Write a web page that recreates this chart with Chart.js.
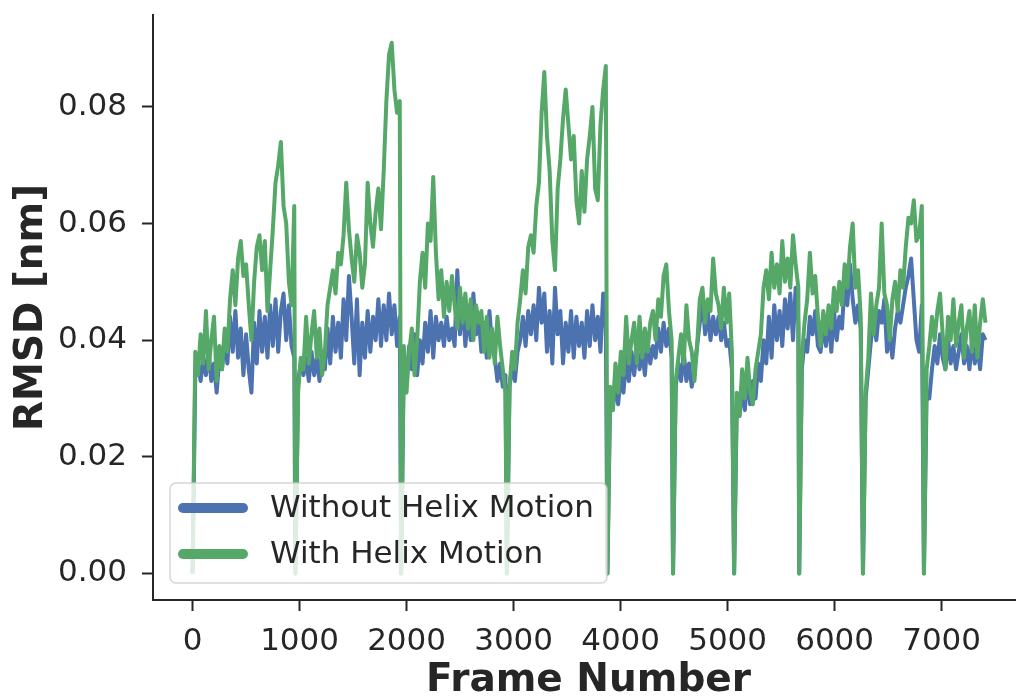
<!DOCTYPE html>
<html>
<head>
<meta charset="utf-8">
<title>RMSD per frame</title>
<script src="https://cdn.jsdelivr.net/npm/chart.js@4.4.1/dist/chart.umd.min.js"></script>
<style>
html, body { margin: 0; padding: 0; background: #fff; overflow: hidden; }
</style>
</head>
<body>
<canvas id="rmsdChart" width="1024" height="700"></canvas>
<script>
// first frame of each trajectory piece, values sampled every 25 frames
const segmentStart = [0, 961, 1949, 2937, 3877, 4490, 5061, 5669, 6265, 6835];
const frameStep = 25;
const xTicks = [0, 1000, 2000, 3000, 4000, 5000, 6000, 7000];
const yTicks = [0, 0.02, 0.04, 0.06, 0.08];
const seriesNames = ['Without Helix Motion', 'With Helix Motion'];

const withoutHelix = [
    [0, .034, .036, .033, .037, .034, .038, .033, .036, .031, .037, .035, .040, .036, .044, .038, .045, .037, .042, .034, .041, .035, .031, .043, .036, .045, .038, .044, .037, .046, .039, .047, .038, .045, .048, .040, .046, .039, .037],
    [0, .033, .036, .034, .037, .033, .038, .034, .037, .033, .038, .035, .042, .036, .044, .038, .043, .037, .047, .040, .051, .044, .036, .047, .034, .043, .037, .045, .038, .044, .040, .047, .039, .046, .040, .048, .041, .046, .039, .044],
    [0, .036, .033, .039, .035, .041, .034, .040, .036, .043, .038, .045, .037, .044, .040, .043, .039, .044, .040, .042, .039, .052, .041, .047, .039, .045, .040, .048, .041, .044, .038, .043, .037, .045, .039, .037, .033, .036, .032, .034],
    [0, .032, .036, .033, .038, .040, .044, .039, .045, .041, .046, .040, .049, .043, .048, .038, .045, .036, .049, .041, .045, .036, .043, .038, .045, .037, .044, .039, .043, .037, .045, .039, .046, .040, .044, .038, .048, .042],
    [0, .030, .028, .033, .029, .034, .031, .037, .033, .038, .034, .039, .035, .038, .034, .040, .036, .039, .037, .042, .038, .043, .039, .042, .037],
    [0, .032, .036, .033, .038, .033, .036, .032, .035, .039, .043, .047, .041, .045, .040, .044, .041, .044, .040, .043, .039, .040, .035],
    [0, .029, .027, .032, .028, .034, .029, .033, .030, .036, .033, .040, .036, .044, .037, .046, .040, .045, .039, .047, .042, .048, .040, .049, .043],
    [0, .035, .040, .038, .044, .041, .045, .039, .038, .043, .039, .044, .038, .045, .040, .044, .042, .050, .046, .053, .047, .043, .046, .042],
    [0, .030, .035, .040, .044, .040, .045, .043, .047, .038, .041, .037, .042, .045, .043, .046, .049, .051, .054, .047, .040, .038, .046],
    [0, .031, .030, .035, .039, .036, .041, .037, .035, .040, .036, .039, .035, .038, .041, .036, .039, .035, .040, .036, .039, .035, .041, .040]
];

const withHelix = [
    [0, .038, .034, .041, .036, .045, .035, .040, .044, .033, .039, .035, .042, .038, .047, .052, .046, .054, .057, .051, .053, .046, .040, .050, .056, .058, .052, .057, .045, .052, .059, .067, .070, .074, .063, .060, .050, .046, .063],
    [0, .031, .037, .035, .044, .036, .041, .045, .037, .042, .034, .038, .046, .049, .052, .048, .055, .053, .058, .067, .059, .054, .050, .058, .055, .049, .053, .067, .060, .056, .062, .066, .059, .069, .081, .089, .091, .083, .079, .081],
    [0, .039, .031, .038, .042, .034, .040, .050, .055, .049, .060, .057, .068, .055, .047, .052, .044, .050, .045, .051, .046, .042, .049, .043, .048, .042, .047, .040, .046, .043, .045, .038, .044, .037, .042, .036, .044, .039, .035, .031],
    [0, .032, .038, .035, .043, .047, .052, .048, .056, .058, .055, .063, .067, .079, .086, .075, .069, .057, .052, .066, .071, .078, .083, .077, .071, .075, .064, .060, .069, .062, .071, .075, .080, .066, .064, .077, .083, .087],
    [0, .032, .028, .036, .031, .038, .034, .044, .036, .040, .043, .036, .044, .037, .042, .038, .043, .045, .040, .047, .044, .051, .053, .045, .040],
    [0, .033, .037, .041, .036, .046, .040, .038, .033, .039, .047, .049, .043, .047, .045, .054, .048, .046, .042, .049, .043, .048, .038],
    [0, .031, .027, .035, .030, .037, .031, .029, .035, .038, .041, .049, .052, .047, .055, .049, .053, .048, .057, .050, .054, .049, .058, .053, .049],
    [0, .037, .043, .047, .055, .048, .051, .044, .039, .045, .041, .046, .042, .049, .045, .050, .046, .053, .049, .056, .060, .049, .052, .044],
    [0, .031, .037, .048, .041, .046, .049, .060, .048, .046, .040, .047, .050, .045, .052, .049, .056, .061, .060, .064, .057, .058, .063],
    [0, .035, .039, .044, .040, .045, .048, .041, .035, .044, .040, .047, .039, .043, .046, .037, .042, .045, .038, .046, .037, .043, .047, .043]
];

const BLUE = '#4c72b0';
const GREEN = '#55a868';
const INK = '#262626';
const FONT = '"DejaVu Sans", sans-serif';

function toPoints(segments) {
    let pts = [];
    segments.forEach(function (vals, s) {
        for (let i = 0; i < vals.length; i++) {
            pts.push({x: segmentStart[s] + i * frameStep, y: vals[i]});
        }
    });
    return pts;
}

// matplotlib-style legend sitting inside the axes, lower left
const boxLegend = {
    id: 'boxLegend',
    afterDraw(chart) {
        const ctx = chart.ctx;
        const area = chart.chartArea;
        const x = area.left + 17, y = area.bottom - 117, w = 437, h = 100, r = 6;
        ctx.save();
        ctx.beginPath();
        ctx.moveTo(x + r, y);
        ctx.arcTo(x + w, y, x + w, y + h, r);
        ctx.arcTo(x + w, y + h, x, y + h, r);
        ctx.arcTo(x, y + h, x, y, r);
        ctx.arcTo(x, y, x + w, y, r);
        ctx.closePath();
        ctx.fillStyle = 'rgba(255,255,255,0.8)';
        ctx.fill();
        ctx.strokeStyle = 'rgba(204,204,204,0.8)';
        ctx.lineWidth = 1.5;
        ctx.stroke();

        const colors = [BLUE, GREEN];
        ctx.font = '31px ' + FONT;
        ctx.textBaseline = 'middle';
        ctx.lineCap = 'round';
        seriesNames.forEach(function (name, i) {
            const cy = y + 25 + i * 46;
            ctx.beginPath();
            ctx.moveTo(x + 13, cy);
            ctx.lineTo(x + 73, cy);
            ctx.strokeStyle = colors[i];
            ctx.lineWidth = 10;
            ctx.stroke();
            ctx.fillStyle = INK;
            ctx.fillText(name, x + 100, cy + 1);
        });
        ctx.restore();
    }
};

const axisBits = {
    grid: {drawOnChartArea: false, drawTicks: true, tickLength: 11, tickWidth: 2, color: INK},
    border: {display: true, color: INK, width: 2}
};

new Chart(document.getElementById('rmsdChart').getContext('2d'), {
    type: 'line',
    data: {
        datasets: [{
            label: seriesNames[0],
            data: toPoints(withoutHelix),
            borderColor: BLUE,
            borderWidth: 4,
            borderJoinStyle: 'round',
            pointRadius: 0,
            tension: 0,
            order: 2
        }, {
            label: seriesNames[1],
            data: toPoints(withHelix),
            borderColor: GREEN,
            borderWidth: 4,
            borderJoinStyle: 'round',
            pointRadius: 0,
            tension: 0,
            order: 1
        }]
    },
    options: {
        responsive: false,
        animation: false,
        devicePixelRatio: 1,
        layout: {padding: {top: 15, right: 0, bottom: 0, left: 0}},
        plugins: {legend: {display: false}, tooltip: {enabled: false}},
        scales: {
            x: {
                type: 'linear',
                min: -370,
                max: 7770,
                afterBuildTicks: function (scale) { scale.ticks = xTicks.map(v => ({value: v})); },
                afterFit: function (scale) {
                    scale.height = 100;
                    scale.paddingLeft = 0;
                    scale.paddingRight = 0;
                },
                ticks: {
                    color: INK, padding: 12, maxRotation: 0, autoSkip: false,
                    font: {family: FONT, size: 31},
                    callback: v => String(v)
                },
                grid: axisBits.grid,
                border: axisBits.border,
                title: {
                    display: true, text: 'Frame Number', color: INK,
                    font: {family: FONT, size: 39, weight: 'bold', lineHeight: 1},
                    padding: {top: 0, bottom: 0}
                }
            },
            y: {
                min: -0.00456,
                max: 0.09576,
                afterBuildTicks: function (scale) { scale.ticks = yTicks.map(v => ({value: v})); },
                afterFit: function (scale) {
                    scale.width = 153;
                    scale.paddingTop = 0;
                    scale.paddingBottom = 0;
                },
                ticks: {
                    color: INK, padding: 15, autoSkip: false,
                    font: {family: FONT, size: 31},
                    callback: v => v.toFixed(2)
                },
                grid: axisBits.grid,
                border: axisBits.border,
                title: {
                    display: true, text: 'RMSD [nm]', color: INK,
                    font: {family: FONT, size: 39, weight: 'bold', lineHeight: 1},
                    padding: {top: 12, bottom: 0}
                }
            }
        }
    },
    plugins: [boxLegend]
});
</script>
</body>
</html>
